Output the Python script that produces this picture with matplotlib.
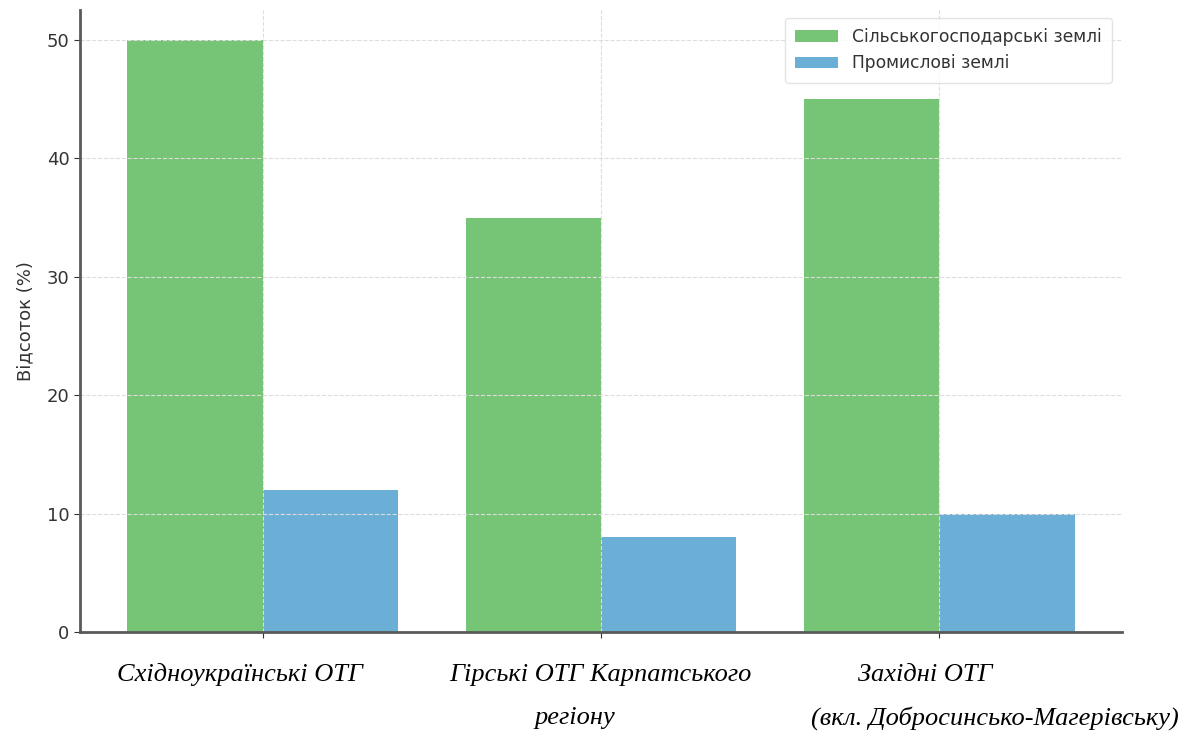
import numpy as np
import matplotlib.pyplot as plt

# Дані
regions = ['Східноукраїнські ОТГ', 'Гірські ОТГ Карпатського регіону',
           'Західні ОТГ (вкл. Добросинсько-Магерівську)']
agri = [50, 35, 45]
industry = [12, 8, 10]
series_names = ['Сільськогосподарські землі', 'Промислові землі']

fig = plt.figure(figsize=(11.84, 7.36), dpi=100)
ax = fig.add_axes([0.0676, 0.1413, 0.88, 0.8446])

x = np.arange(len(regions))
w = 0.4
ax.bar(x - w / 2, agri, w, color='#76c476', label=series_names[0])
ax.bar(x + w / 2, industry, w, color='#6baed6', label=series_names[1])

ax.set_xticks(x)
ax.set_xticklabels([''] * len(regions))
ax.set_ylabel('Відсоток (%)', fontsize=13, color='#333333', labelpad=9)
ax.tick_params(axis='y', labelsize=13, colors='#333333', length=4)
ax.tick_params(axis='x', length=4, colors='#333333')
ax.grid(True, linestyle='--', color='#dddddd', linewidth=0.8)
for s in ['top', 'right']:
    ax.spines[s].set_visible(False)
for s in ['left', 'bottom']:
    ax.spines[s].set_color('#5a5a5a')
    ax.spines[s].set_linewidth(2)

leg = ax.legend(fontsize=12.3, loc='upper right', frameon=True, handlelength=2.5,
                borderpad=0.6, labelspacing=0.5, bbox_to_anchor=(0.9985, 1.002))
leg.get_frame().set_edgecolor('#dddddd')
for t in leg.get_texts():
    t.set_color('#333333')

# підписи під віссю як у документі
serif = dict(family='Liberation Serif', style='italic', fontsize=19, color='black',
             ha='center', va='center')
fig.text(240 / 1184, 1 - 675 / 736, 'Східноукраїнські ОТГ', **serif)
fig.text(600 / 1184, 1 - 675 / 736, 'Гірські ОТГ Карпатського', **serif)
fig.text(575 / 1184, 1 - 718 / 736, 'регіону', **serif)
fig.text(925 / 1184, 1 - 675 / 736, 'Західні ОТГ', **serif)
fig.text(995 / 1184, 1 - 718 / 736, '(вкл. Добросинсько-Магерівську)', **serif)

fig.savefig('out.png', dpi=100)
